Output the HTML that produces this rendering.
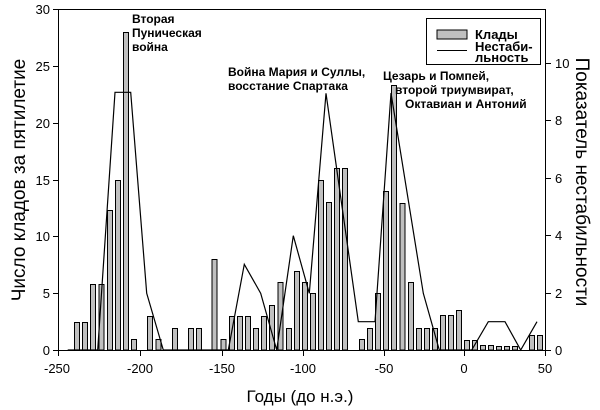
<!DOCTYPE html>
<html><head><meta charset="utf-8"><style>
html,body{margin:0;padding:0;background:#fff}
svg{display:block;font-family:"Liberation Sans",Arial,sans-serif}
</style></head><body>
<svg width="600" height="410" viewBox="0 0 600 410" xmlns="http://www.w3.org/2000/svg">
<g fill="#c0c0c0" stroke="#000" stroke-width="1">
<rect x="74.5" y="322.5" width="5" height="27.5"/>
<rect x="82.5" y="322.5" width="5" height="27.5"/>
<rect x="90.5" y="284.5" width="5" height="65.5"/>
<rect x="99" y="284.5" width="5" height="65.5"/>
<rect x="107.5" y="210.5" width="5" height="139.5"/>
<rect x="115.5" y="180.5" width="5" height="169.5"/>
<rect x="123.5" y="32.5" width="5" height="317.5"/>
<rect x="131.5" y="339.5" width="5" height="10.5"/>
<rect x="147.5" y="316.5" width="5" height="33.5"/>
<rect x="156" y="339.5" width="5" height="10.5"/>
<rect x="172.5" y="328.5" width="5" height="21.5"/>
<rect x="188.5" y="328.5" width="5" height="21.5"/>
<rect x="196.5" y="328.5" width="5" height="21.5"/>
<rect x="212" y="259.5" width="5" height="90.5"/>
<rect x="221" y="339.5" width="5" height="10.5"/>
<rect x="229.5" y="316.5" width="5" height="33.5"/>
<rect x="237.5" y="316.5" width="5" height="33.5"/>
<rect x="245.5" y="316.5" width="5" height="33.5"/>
<rect x="253.5" y="328.5" width="5" height="21.5"/>
<rect x="261.5" y="316.5" width="5" height="33.5"/>
<rect x="269.5" y="305.5" width="5" height="44.5"/>
<rect x="278" y="282.5" width="5" height="67.5"/>
<rect x="286.5" y="328.5" width="5" height="21.5"/>
<rect x="294.5" y="271.5" width="5" height="78.5"/>
<rect x="302.5" y="282.5" width="5" height="67.5"/>
<rect x="310.5" y="293.5" width="5" height="56.5"/>
<rect x="318.5" y="180.5" width="5" height="169.5"/>
<rect x="326.5" y="202.5" width="5" height="147.5"/>
<rect x="334.5" y="168.5" width="5" height="181.5"/>
<rect x="342.5" y="168.5" width="5" height="181.5"/>
<rect x="359.5" y="339.5" width="5" height="10.5"/>
<rect x="367.5" y="328.5" width="5" height="21.5"/>
<rect x="375.5" y="293.5" width="5" height="56.5"/>
<rect x="383.5" y="191.5" width="5" height="158.5"/>
<rect x="391.5" y="85.5" width="5" height="264.5"/>
<rect x="400" y="203.5" width="5" height="146.5"/>
<rect x="408.5" y="282.5" width="5" height="67.5"/>
<rect x="416.5" y="328.5" width="5" height="21.5"/>
<rect x="424.5" y="328.5" width="5" height="21.5"/>
<rect x="432.5" y="328.5" width="5" height="21.5"/>
<rect x="440.5" y="315.5" width="5" height="34.5"/>
<rect x="448.5" y="315.5" width="5" height="34.5"/>
<rect x="456.5" y="310.5" width="5" height="39.5"/>
<rect x="464.5" y="340.5" width="5" height="9.5"/>
<rect x="472.5" y="340.5" width="5" height="9.5"/>
<rect x="480.5" y="345.5" width="5" height="4.5"/>
<rect x="488.5" y="345.5" width="5" height="4.5"/>
<rect x="496.5" y="346.5" width="5" height="3.5"/>
<rect x="504.5" y="346.5" width="5" height="3.5"/>
<rect x="512.5" y="346.5" width="5" height="3.5"/>
<rect x="529.5" y="335.5" width="5" height="14.5"/>
<rect x="537.5" y="335.5" width="5" height="14.5"/>
</g>
<polyline fill="none" stroke="#000" stroke-width="1.2" points="67.7,350 97.7,350 115,92.3 130.7,92.3 146.7,293.3 163.3,350 228.3,350 244.3,264.3 260.7,293.3 276.7,350 293.3,235.7 309.3,293.3 326,93.3 358.3,321.7 375,321.7 391,93 423.3,293.3 439.3,350 471.7,350 488.3,321.7 505,321.7 520.7,350 537,321.7"/>
<g stroke="#000" stroke-width="1" fill="none">
<path d="M58.5,9.5 H545.5 V350.5 H58.5 Z"/>
<path d="M53,350.5H58.5M53,293.5H58.5M53,236.5H58.5M53,180.5H58.5M53,123.5H58.5M53,66.5H58.5M53,9.5H58.5"/>
<path d="M545.5,350.5H551M545.5,293.5H551M545.5,235.5H551M545.5,178.5H551M545.5,120.5H551M545.5,63.5H551"/>
<path d="M58.5,350V356M140.5,350V356M222.5,350V356M303.5,350V356M384.5,350V356M464.5,350V356M545.5,350V356"/>
</g>
<g font-size="13" fill="#000" text-anchor="end">
<text x="50" y="355">0</text><text x="50" y="298">5</text><text x="50" y="241">10</text><text x="50" y="185">15</text><text x="50" y="128">20</text><text x="50" y="71">25</text><text x="50" y="14">30</text>
</g>
<g font-size="13" fill="#000" text-anchor="start">
<text x="555" y="355">0</text><text x="555" y="298">2</text><text x="555" y="240">4</text><text x="555" y="183">6</text><text x="555" y="125">8</text><text x="555" y="68">10</text>
</g>
<g font-size="13" fill="#000" text-anchor="middle">
<text x="57" y="373">-250</text><text x="140" y="373">-200</text><text x="222" y="373">-150</text><text x="303" y="373">-100</text><text x="384" y="373">-50</text><text x="464" y="373">0</text><text x="545" y="373">50</text>
</g>
<text x="300" y="402" font-size="17" text-anchor="middle">Годы (до н.э.)</text>
<text transform="translate(25,180) rotate(-90)" font-size="19" text-anchor="middle">Число кладов за пятилетие</text>
<text transform="translate(576,182) rotate(90)" font-size="19" text-anchor="middle">Показатель нестабильности</text>
<g font-size="12" font-weight="bold" fill="#000">
<text x="132" y="23">Вторая</text><text x="132" y="37">Пуническая</text><text x="132" y="51">война</text>
<text x="228" y="76">Война Мария и Суллы,</text><text x="228" y="90">восстание Спартака</text>
<text x="383" y="80">Цезарь и Помпей,</text><text x="395" y="94">второй триумвират,</text><text x="405" y="108">Октавиан и Антоний</text>
</g>
<rect x="426.5" y="18.5" width="114" height="46" fill="#fff" stroke="#000"/>
<rect x="437" y="30" width="30" height="9" fill="#c0c0c0" stroke="#000"/>
<line x1="437" y1="50.5" x2="467" y2="50.5" stroke="#000"/>
<g font-size="13" font-weight="bold"><text x="475" y="39">Клады</text><text x="475" y="51">Нестаби-</text><text x="475" y="62">льность</text></g>
</svg>
</body></html>
